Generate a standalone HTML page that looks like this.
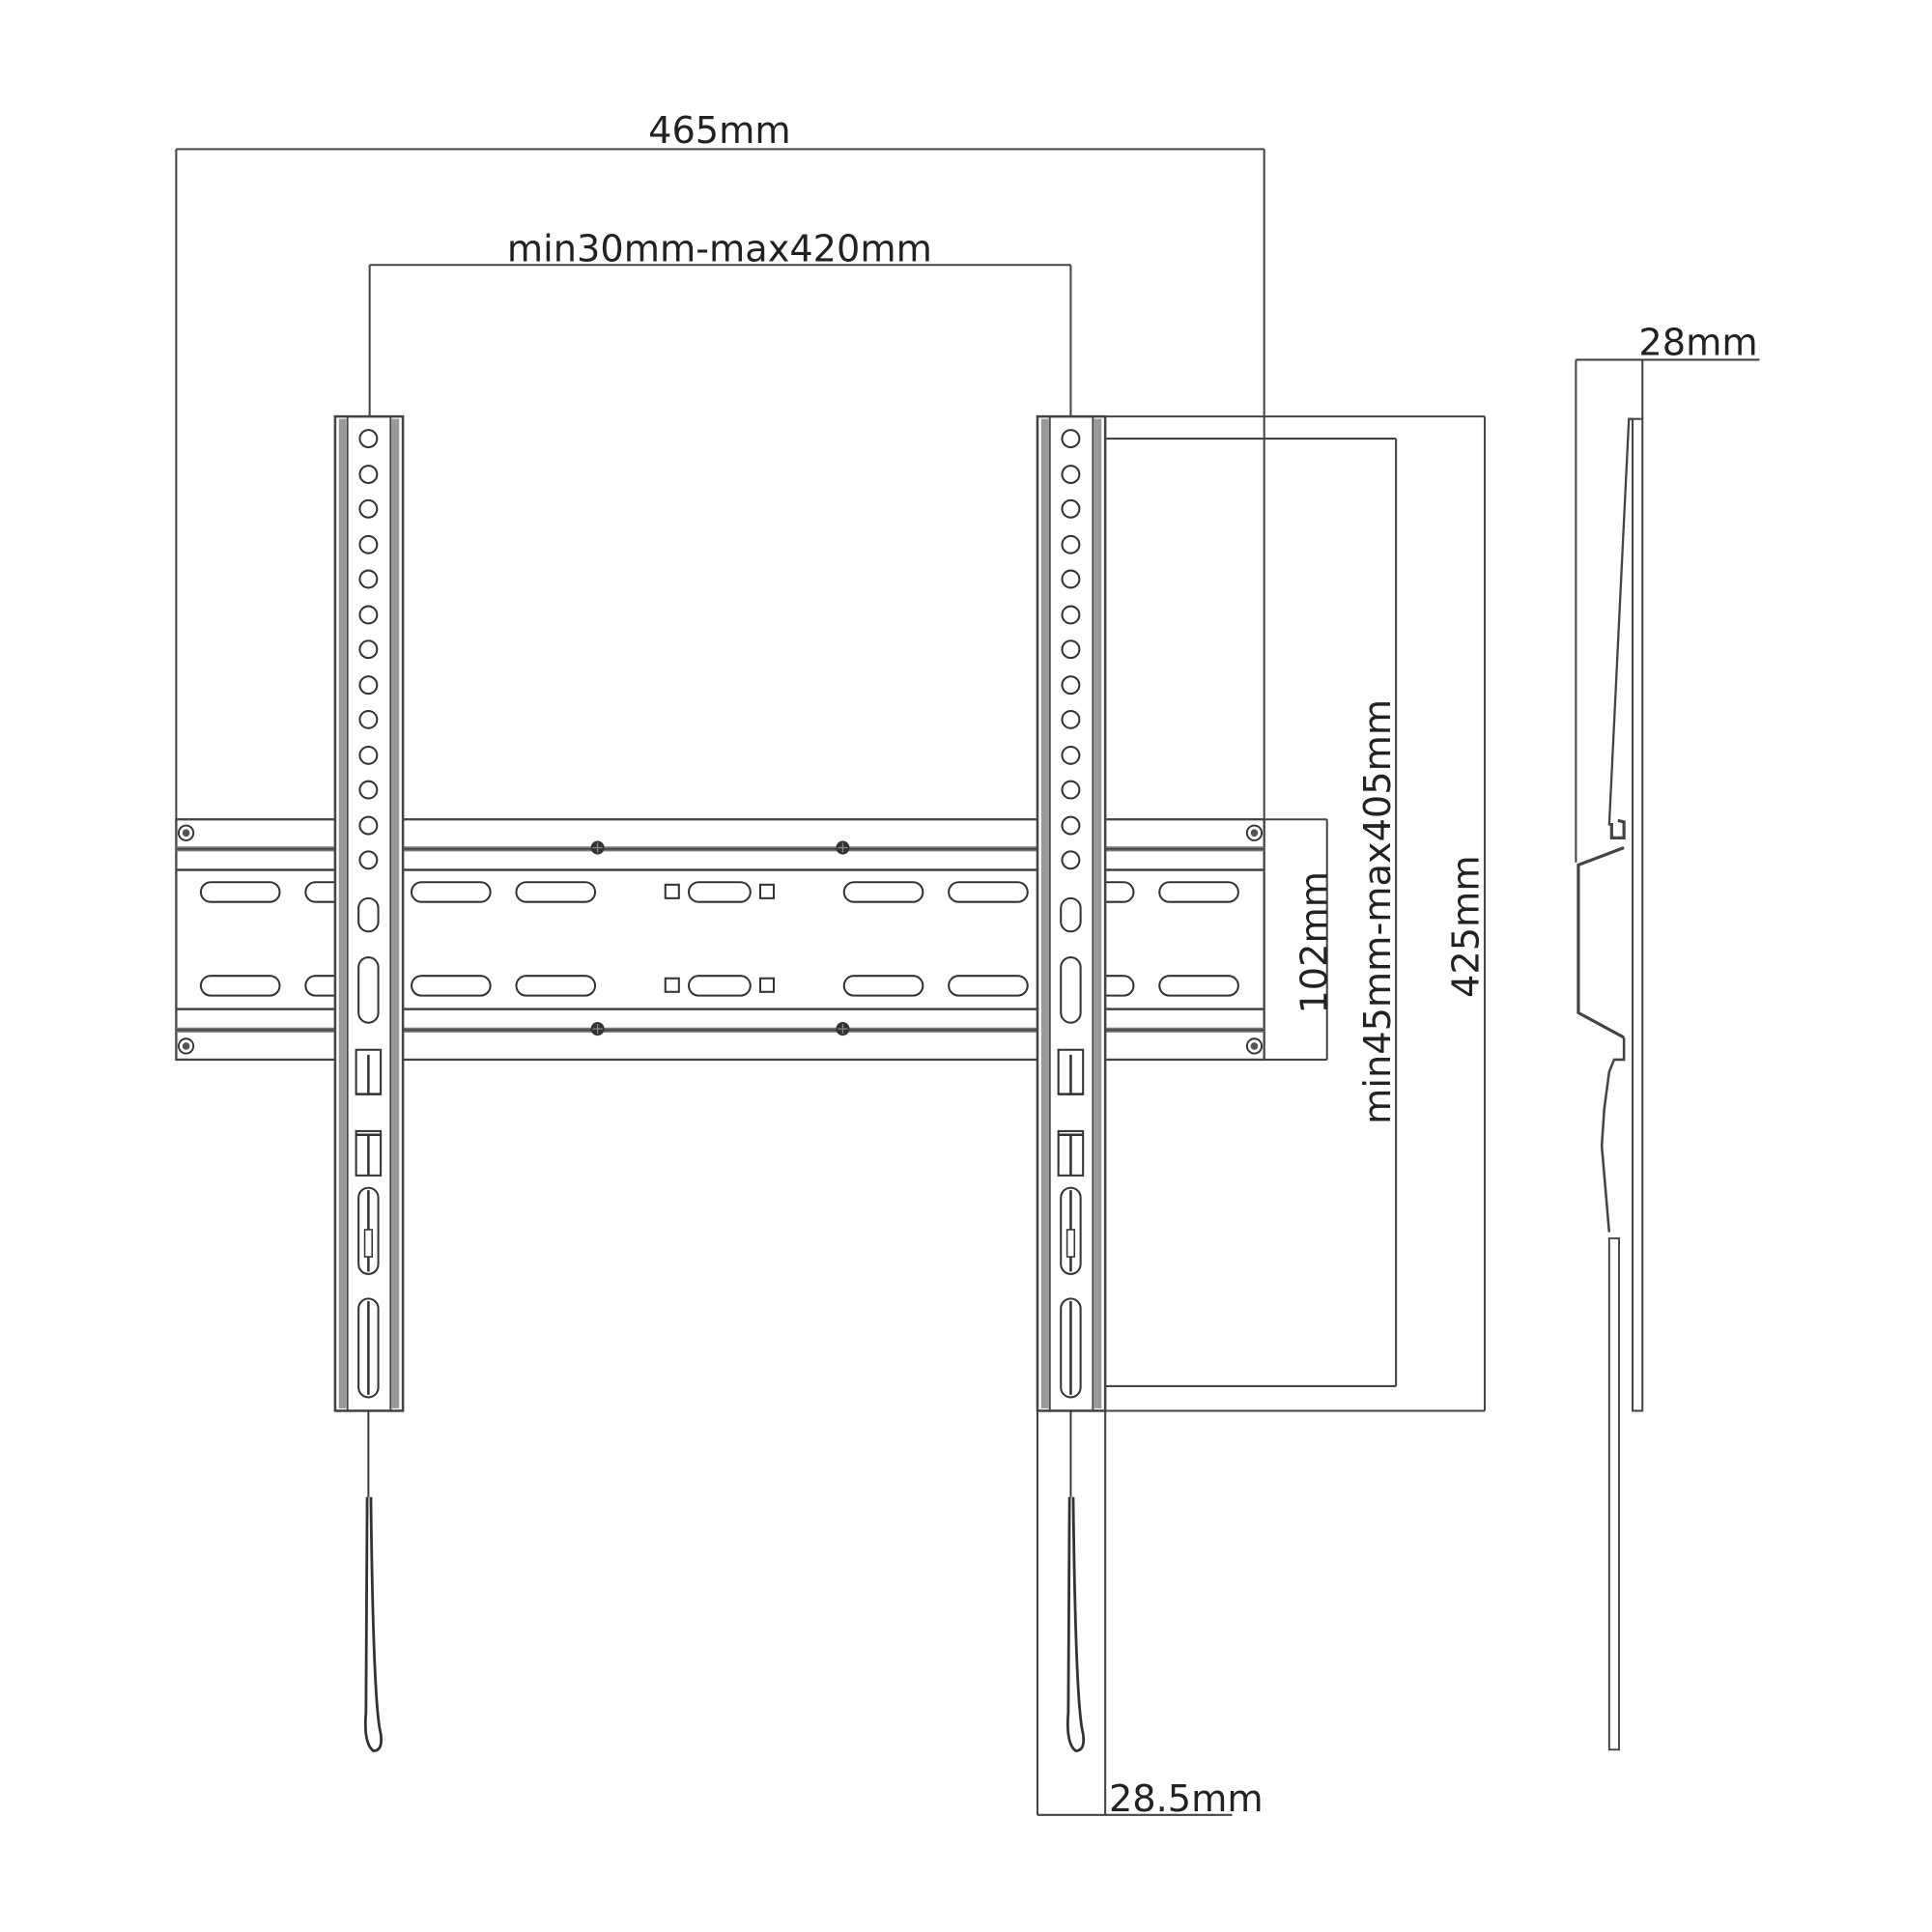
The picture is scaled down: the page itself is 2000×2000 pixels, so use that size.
<!DOCTYPE html>
<html><head><meta charset="utf-8"><style>
html,body{margin:0;padding:0;background:#fff}
svg{display:block}
text{font-family:"DejaVu Sans","Liberation Sans",sans-serif;fill:#222}
</style></head><body>
<svg width="2000" height="2000" viewBox="0 0 1568 1568" xmlns="http://www.w3.org/2000/svg">
<defs>
<g id="strip">
  <rect x="-27" y="0" width="55" height="807" fill="#fff" stroke="#444" stroke-width="2"/>
  <rect x="-24" y="2" width="6" height="803" fill="#999"/>
  <rect x="19" y="2" width="6" height="803" fill="#999"/>
  <line x1="-17" y1="0" x2="-17" y2="807" stroke="#444" stroke-width="1.5"/>
  <line x1="18" y1="0" x2="18" y2="807" stroke="#444" stroke-width="1.5"/>
  <g fill="#fff" stroke="#333" stroke-width="1.6">
    <circle cx="0" cy="18" r="7"/><circle cx="0" cy="47" r="7"/><circle cx="0" cy="75" r="7"/>
    <circle cx="0" cy="104" r="7"/><circle cx="0" cy="132" r="7"/><circle cx="0" cy="161" r="7"/>
    <circle cx="0" cy="189" r="7"/><circle cx="0" cy="218" r="7"/><circle cx="0" cy="246" r="7"/>
    <circle cx="0" cy="275" r="7"/><circle cx="0" cy="303" r="7"/><circle cx="0" cy="332" r="7"/>
    <circle cx="0" cy="360" r="7"/>
    <rect x="-8" y="391" width="16" height="27" rx="8"/>
    <rect x="-8" y="439" width="16" height="53" rx="8"/>
    <rect x="-10" y="514" width="20" height="36"/>
    <rect x="-10" y="580" width="20" height="36"/>
    <rect x="-8" y="626" width="16" height="70" rx="8"/>
    <rect x="-8" y="716" width="16" height="80" rx="8"/>
  </g>
  <g stroke="#333" stroke-width="2">
    <line x1="0" y1="518" x2="0" y2="550"/><line x1="-10" y1="550" x2="10" y2="550"/>
    <line x1="0" y1="583" x2="0" y2="616"/><line x1="-10" y1="583" x2="10" y2="583"/>
    <line x1="0" y1="628" x2="0" y2="694"/><line x1="0" y1="718" x2="0" y2="794"/>
  </g>
  <rect x="-3" y="660" width="6" height="22" fill="#fff" stroke="#333" stroke-width="1.2"/>
</g>
<g id="slot"><rect x="-32" y="-8" width="64" height="16" rx="8" fill="#fff" stroke="#333" stroke-width="1.6"/></g>
<g id="screw"><circle r="5.5" fill="#333"/><line x1="-4" y1="0" x2="4" y2="0" stroke="#888"/><line x1="0" y1="-4" x2="0" y2="4" stroke="#888"/></g>
<g id="cscrew"><circle r="6" fill="#fff" stroke="#333" stroke-width="1.5"/><circle r="3" fill="#555"/></g>
<g id="string" fill="none" stroke="#333">
  <line x1="0" y1="0" x2="0" y2="70" stroke-width="1.5"/>
  <path d="M-1,70 L-2,245 Q-4,270 4,276 Q12,276 10,262 Q4,240 2,70" stroke-width="2.2"/>
</g>
</defs>

<!-- dimension lines -->
<g stroke="#444" stroke-width="1.6" fill="none">
  <line x1="143" y1="121" x2="1026" y2="121"/>
  <line x1="143" y1="121" x2="143" y2="668"/>
  <line x1="1026" y1="121" x2="1026" y2="668"/>
  <line x1="300" y1="215" x2="869" y2="215"/>
  <line x1="300" y1="215" x2="300" y2="350"/>
  <line x1="869" y1="215" x2="869" y2="350"/>
  <line x1="897" y1="338" x2="1205" y2="338"/>
  <line x1="897" y1="1145" x2="1205" y2="1145"/>
  <line x1="1205" y1="338" x2="1205" y2="1145"/>
  <line x1="869" y1="356" x2="1133" y2="356"/>
  <line x1="869" y1="1125" x2="1133" y2="1125"/>
  <line x1="1133" y1="356" x2="1133" y2="1125"/>
  <line x1="1026" y1="665" x2="1077" y2="665"/>
  <line x1="1026" y1="860" x2="1077" y2="860"/>
  <line x1="1077" y1="665" x2="1077" y2="860"/>
  <line x1="842" y1="1145" x2="842" y2="1473"/>
  <line x1="897" y1="1145" x2="897" y2="1473"/>
  <line x1="842" y1="1473" x2="1000" y2="1473"/>
  <line x1="1279" y1="292" x2="1428" y2="292"/>
  <line x1="1279" y1="292" x2="1279" y2="700"/>
  <line x1="1333" y1="292" x2="1333" y2="340"/>
</g>

<!-- horizontal plate -->
<rect x="143" y="665" width="883" height="195" fill="#fff" stroke="#444" stroke-width="1.8"/>
<g stroke="#444">
  <line x1="143" y1="689" x2="1026" y2="689" stroke-width="4" stroke="#777"/>
  <line x1="143" y1="689" x2="1026" y2="689" stroke-width="1.2"/>
  <line x1="143" y1="706" x2="1026" y2="706" stroke-width="2"/>
  <line x1="143" y1="819" x2="1026" y2="819" stroke-width="2"/>
  <line x1="143" y1="836" x2="1026" y2="836" stroke-width="4" stroke="#777"/>
  <line x1="143" y1="836" x2="1026" y2="836" stroke-width="1.2"/>
</g>
<g>
  <use href="#slot" x="195" y="724"/><use href="#slot" x="280" y="724"/><use href="#slot" x="366" y="724"/><use href="#slot" x="451" y="724"/>
  <use href="#slot" x="717" y="724"/><use href="#slot" x="802" y="724"/><use href="#slot" x="888" y="724"/><use href="#slot" x="973" y="724"/>
  <use href="#slot" x="195" y="800"/><use href="#slot" x="280" y="800"/><use href="#slot" x="366" y="800"/><use href="#slot" x="451" y="800"/>
  <use href="#slot" x="717" y="800"/><use href="#slot" x="802" y="800"/><use href="#slot" x="888" y="800"/><use href="#slot" x="973" y="800"/>
  <rect x="559" y="716" width="50" height="16" rx="8" fill="#fff" stroke="#333" stroke-width="1.6"/>
  <rect x="559" y="792" width="50" height="16" rx="8" fill="#fff" stroke="#333" stroke-width="1.6"/>
  <g fill="#fff" stroke="#333" stroke-width="1.6">
    <rect x="540" y="718" width="11" height="11"/><rect x="617" y="718" width="11" height="11"/>
    <rect x="540" y="794" width="11" height="11"/><rect x="617" y="794" width="11" height="11"/>
  </g>
  <use href="#screw" x="485" y="688"/><use href="#screw" x="684" y="688"/>
  <use href="#screw" x="485" y="835"/><use href="#screw" x="684" y="835"/>
  <use href="#cscrew" x="151" y="676"/><use href="#cscrew" x="1018" y="676"/>
  <use href="#cscrew" x="151" y="849"/><use href="#cscrew" x="1018" y="849"/>
</g>

<!-- vertical strips -->
<use href="#strip" x="299" y="338"/>
<use href="#strip" x="869" y="338"/>
<use href="#string" x="299" y="1145"/>
<use href="#string" x="869" y="1145"/>

<!-- side view -->
<g fill="none" stroke="#444" stroke-width="1.8">
  <rect x="1325" y="340" width="8" height="805" stroke-width="1.6"/>
  <path d="M1325,340 L1322,340 L1306,670"/>
  <path d="M1308,668 L1308,680 L1318,680 L1318,667 L1313,666" stroke-width="2.5"/>
  <path d="M1318,688 L1281,702 L1281,822 L1318,842" stroke-width="2.5"/>
  <path d="M1318,842 L1318,860 L1310,860 L1306,870 L1302,900 L1300,930 L1306,1000" stroke-width="2"/>
  <rect x="1306" y="1005" width="8" height="415" stroke-width="1.5"/>
</g>

<!-- labels -->
<text x="584" y="116" font-size="30" text-anchor="middle">465mm</text>
<text x="584" y="212" font-size="30" text-anchor="middle">min30mm-max420mm</text>
<text x="1330" y="288" font-size="30">28mm</text>
<text x="900" y="1470" font-size="30">28.5mm</text>
<text transform="translate(1200,752) rotate(-90)" font-size="30" text-anchor="middle">425mm</text>
<text transform="translate(1128,740) rotate(-90)" font-size="30" text-anchor="middle">min45mm-max405mm</text>
<text transform="translate(1077,765) rotate(-90)" font-size="30" text-anchor="middle">102mm</text>
</svg>
</body></html>
